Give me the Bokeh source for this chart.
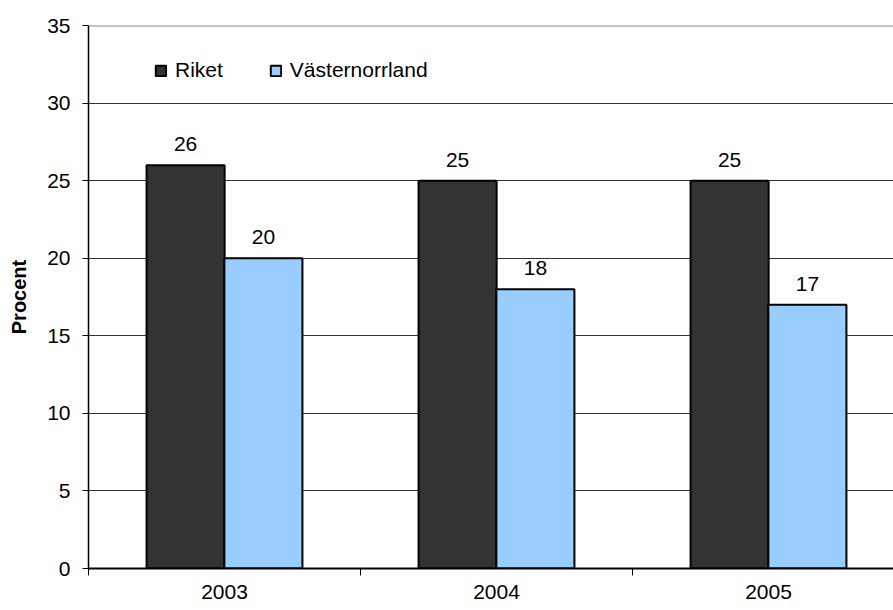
from bokeh.plotting import figure
from bokeh.models import (FixedTicker, LinearAxis, Range1d, Span, Legend, LegendItem,
                          ColumnDataSource)
from bokeh.core.properties import value
from bokeh.embed import file_html
from bokeh.resources import INLINE

years = ["2003", "2004", "2005"]
riket = [26, 25, 25]
vasternorrland = [20, 18, 17]
series_names = ["Riket", "Västernorrland"]
y_ticks = [0, 5, 10, 15, 20, 25, 30, 35]

FONT = "Liberation Sans"
n = len(years)
centers = [i + 0.5 for i in range(n)]
off = 0.143
bw = 0.287
FW = 805

p = figure(frame_width=FW, frame_height=543, output_backend="svg", toolbar_location=None,
           x_range=Range1d(0, FW / 272), y_range=Range1d(0, 35),
           min_border_left=88, min_border_right=0, min_border_top=25, min_border_bottom=38,
           x_axis_location=None)
p.outline_line_color = None
p.background_fill_color = "white"
p.border_fill_color = "white"

src_r = ColumnDataSource(dict(x=[c - off for c in centers], top=riket,
                              lab=[str(v) for v in riket]))
src_v = ColumnDataSource(dict(x=[c + off for c in centers], top=vasternorrland,
                              lab=[str(v) for v in vasternorrland]))

r1 = p.vbar(x="x", top="top", width=bw, source=src_r, fill_color="#333333",
            line_color="black", line_width=2)
r2 = p.vbar(x="x", top="top", width=bw, source=src_v, fill_color="#99CCFF",
            line_color="black", line_width=2)

for src in (src_r, src_v):
    p.text(x="x", y="top", text="lab", source=src, text_align="center",
           text_baseline="bottom", y_offset=-14, text_font=value(FONT),
           text_font_size="21px", text_color="black")

# y axis
yax = p.yaxis[0]
yax.ticker = FixedTicker(ticks=y_ticks)
yax.minor_tick_line_color = None
yax.major_tick_out = 6
yax.major_tick_in = 0
yax.axis_line_color = "black"
yax.axis_line_width = 1.5
yax.major_label_text_font = FONT
yax.major_label_text_font_size = "21px"
yax.major_label_text_color = "black"
yax.major_label_standoff = 12
yax.axis_label = "Procent"
yax.axis_label_text_font = FONT
yax.axis_label_text_font_style = "bold"
yax.axis_label_text_font_size = "20px"
yax.axis_label_text_color = "black"
yax.axis_label_standoff = 14

p.ygrid.ticker = FixedTicker(ticks=[5, 10, 15, 20, 25, 30])
p.ygrid.grid_line_color = "#333333"
p.ygrid.grid_line_width = 1
p.xgrid.grid_line_color = None

p.add_layout(Span(location=35, dimension="width", line_color="#888888", line_width=2))

# x axis
xax = LinearAxis(ticker=FixedTicker(ticks=centers, minor_ticks=[0, 1, 2, 3]),
                 major_label_overrides={c: y for c, y in zip(centers, years)})
xax.major_tick_line_color = None
xax.major_tick_out = 0
xax.major_tick_in = 0
xax.minor_tick_out = 7
xax.minor_tick_in = 0
xax.minor_tick_line_color = "black"
xax.axis_line_color = "black"
xax.axis_line_width = 2
xax.major_label_text_font = FONT
xax.major_label_text_font_size = "21px"
xax.major_label_text_color = "black"
xax.major_label_standoff = 9
p.add_layout(xax, "below")

legend = Legend(items=[LegendItem(label=series_names[0], renderers=[r1]),
                       LegendItem(label=series_names[1], renderers=[r2])],
                orientation="horizontal", location=(66, 486),
                glyph_width=13, glyph_height=13, label_standoff=8, spacing=46,
                padding=0, margin=0, border_line_color=None,
                background_fill_alpha=0, label_text_font=FONT,
                label_text_font_size="21px", label_text_color="black")
p.add_layout(legend, "center")

open("out.html", "w").write(file_html(p, INLINE))
